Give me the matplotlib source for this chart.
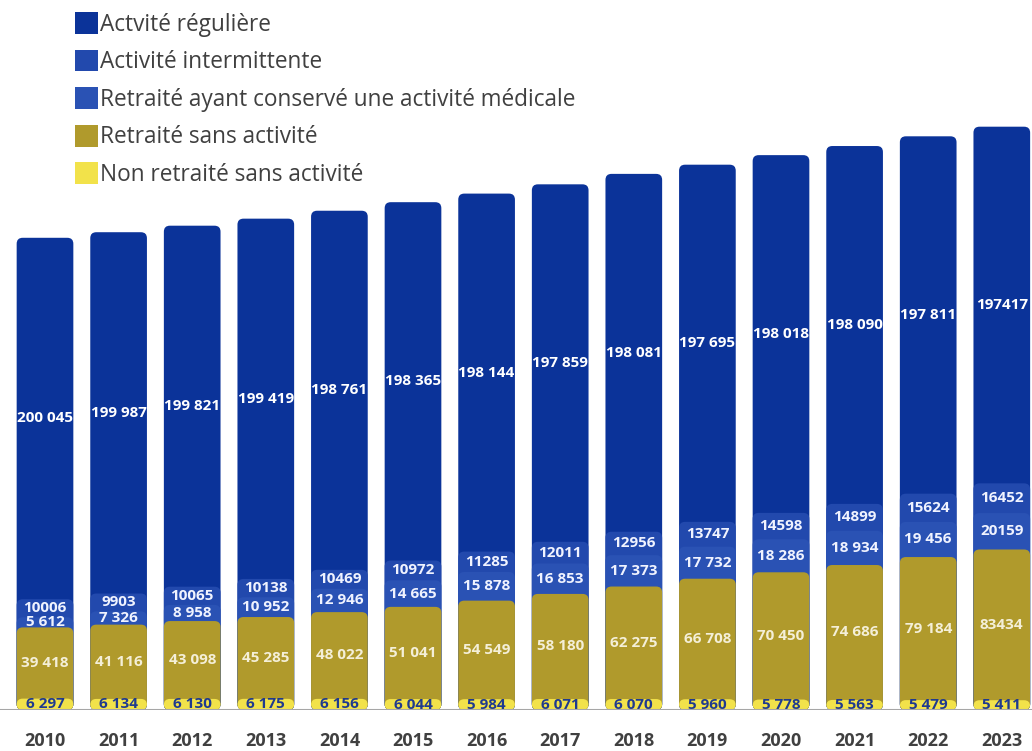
import matplotlib.pyplot as plt
from matplotlib.patches import FancyBboxPatch, Patch
import numpy as np

plt.rcParams['font.family'] = ['Open Sans', 'DejaVu Sans']

years = ['2010', '2011', '2012', '2013', '2014', '2015', '2016',
         '2017', '2018', '2019', '2020', '2021', '2022', '2023']

non_retraite = [6297, 6134, 6130, 6175, 6156, 6044, 5984,
                6071, 6070, 5960, 5778, 5563, 5479, 5411]
retraite_sans = [39418, 41116, 43098, 45285, 48022, 51041, 54549,
                 58180, 62275, 66708, 70450, 74686, 79184, 83434]
retraite_actif = [5612, 7326, 8958, 10952, 12946, 14665, 15878,
                  16853, 17373, 17732, 18286, 18934, 19456, 20159]
intermittente = [10006, 9903, 10065, 10138, 10469, 10972, 11285,
                 12011, 12956, 13747, 14598, 14899, 15624, 16452]
reguliere = [200045, 199987, 199821, 199419, 198761, 198365, 198144,
             197859, 198081, 197695, 198018, 198090, 197811, 197417]

series = [
    ('Non retraité sans activité', non_retraite, '#f2e24a', '#1f3a8f'),
    ('Retraité sans activité', retraite_sans, '#b09a2c', '#f4efd8'),
    ('Retraité ayant conservé une activité médicale', retraite_actif, '#2a52b4', '#f0f3ff'),
    ('Activité intermittente', intermittente, '#2249ad', '#f0f3ff'),
    ('Actvité régulière', reguliere, '#0b3399', '#ffffff'),
]


def fmt(v, spaced=True):
    s = f'{v:,}'
    return s.replace(',', ' ') if spaced else s.replace(',', '')


W, H = 1032, 751
fig = plt.figure(figsize=(W / 100, H / 100), dpi=100)
x0, x1 = -45 / 73.6, (W - 45) / 73.6
ax = fig.add_axes([0, 41 / H, 1, 1 - 41 / H])
ymax = 393000
ax.set_xlim(x0, x1)
ax.set_ylim(0, ymax)

x = np.arange(len(years))
bottom = np.zeros(len(years))
width = 0.77
px_x = 1 / 73.6
px_y = ymax / (H - 41)
aspect = px_y / px_x

for k, (name, vals, color, tcolor) in enumerate(series):
    vals = np.array(vals)
    bars = ax.bar(x, vals, width, bottom=bottom, color=color)
    for i, r in enumerate(bars.patches):
        r.set_visible(False)
        # each segment drawn from the baseline so only its top corners are rounded
        fb = FancyBboxPatch((r.get_x(), 0), r.get_width(), r.get_y() + r.get_height(),
                            boxstyle='round,pad=0,rounding_size=%f' % (6 * px_x),
                            mutation_aspect=aspect, fc=color, ec='none', zorder=4 - k * 0.1)
        ax.add_patch(fb)
        spaced = name != 'Activité intermittente' and years[i] != '2023'
        if name == 'Non retraité sans activité':
            spaced = True
        ax.text(r.get_x() + r.get_width() / 2, r.get_y() + r.get_height() / 2,
                fmt(vals[i], spaced), ha='center', va='center', color=tcolor,
                fontsize=11, fontweight='bold', zorder=5)
    bottom += vals

ax.axhline(0, color='#a6a6a6', lw=1.5, zorder=6)
ax.set_xticks(x)
ax.set_xticklabels(years, fontsize=13, fontweight='bold', color='#404040')
ax.tick_params(axis='x', length=0, pad=16)
ax.set_yticks([])
for s in ax.spines.values():
    s.set_visible(False)

handles = [Patch(fc=c, ec='none', label=n) for n, _, c, _ in series][::-1]
leg = fig.legend(handles=handles, loc='upper left', bbox_to_anchor=(66 / W, 1 - 3 / H),
                 frameon=False, fontsize=16.3, handlelength=1.0, handleheight=1.1,
                 handletextpad=0.12, labelspacing=0.575, borderaxespad=0)
for t in leg.get_texts():
    t.set_color('#404040')

fig.savefig('out.png', dpi=100)
